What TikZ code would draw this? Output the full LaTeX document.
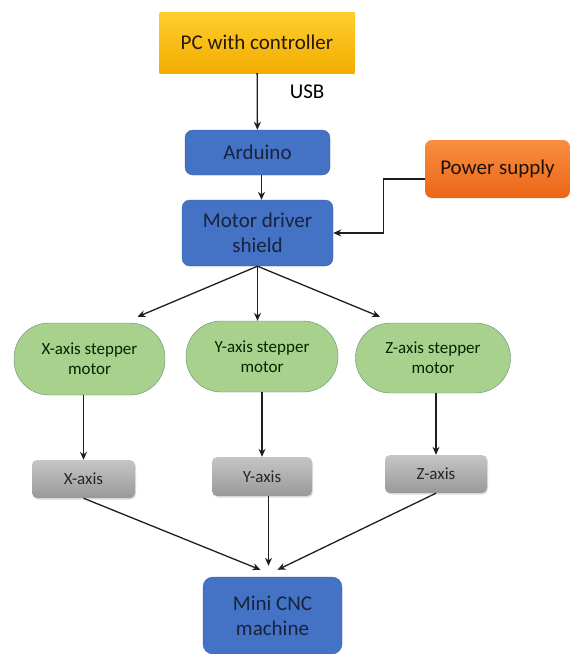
\documentclass[tikz,border=0pt]{standalone}
\usepackage{fontspec}
\setmainfont{Carlito}
\usepackage{tikz}
\usetikzlibrary{arrows.meta,positioning,calc,shadows}
\definecolor{cncblue}{HTML}{4472C4}
\definecolor{cncblueline}{HTML}{3863B3}
\definecolor{navytext}{HTML}{17233F}
\definecolor{pctop}{HTML}{FFCE2E}
\definecolor{pcbottom}{HTML}{F2AD00}
\definecolor{powertop}{HTML}{F88E3E}
\definecolor{powerbottom}{HTML}{EC6519}
\definecolor{motorgreen}{HTML}{A9D18E}
\definecolor{motorline}{HTML}{5F8B73}
\definecolor{wire}{HTML}{1E1E1E}

\begin{document}
\begin{tikzpicture}[
  x=1pt, y=-1pt,
  big/.style={font=\fontsize{21}{25}\selectfont},
  small/.style={font=\fontsize{17}{20}\selectfont},
  block/.style={big, draw=cncblueline, fill=cncblue, text=navytext, rounded corners=8pt, align=center, inner sep=0pt},
  pcbox/.style={big, top color=pctop, bottom color=pcbottom, text=black!80!brown, inner sep=0pt},
  powerbox/.style={big, top color=powertop, bottom color=powerbottom, text=black!85!brown, rounded corners=7pt, inner sep=0pt},
  motor/.style={small, draw=motorline, fill=motorgreen, text=black!85!green, rounded corners=35pt, align=center, inner sep=0pt},
  axisbox/.style={small, top color=gray!45, bottom color=gray!80, text=black!85, rounded corners=5pt, inner sep=0pt,
    drop shadow={shadow xshift=1pt, shadow yshift=-1.5pt, opacity=0.25}},
  arrow/.style={-{Stealth[length=8pt,width=7pt]}, line width=1.3pt, draw=wire}
]
\useasboundingbox (0,0) rectangle (570,654);

\node[pcbox, minimum width=195pt, minimum height=61pt] (pc) at (257,42.5) {PC with controller};
\node[block, minimum width=145pt, minimum height=45pt] (arduino) at (257.5,152.5) {Arduino};
\node[block, minimum width=151pt, minimum height=66pt] (shield) at (257.5,233) {Motor driver\\shield};
\node[powerbox, minimum width=145pt, minimum height=58pt] (power) at (497.5,169) {Power supply};

\node[motor, minimum width=151pt, minimum height=72pt] (xmotor) at (89.5,359) {X-axis stepper\\motor};
\node[motor, minimum width=152pt, minimum height=71pt] (ymotor) at (262,356.5) {Y-axis stepper\\motor};
\node[motor, minimum width=155pt, minimum height=70pt] (zmotor) at (433,358) {Z-axis stepper\\motor};

\node[axisbox, minimum width=103pt, minimum height=38pt] (xaxis) at (83.5,479) {X-axis};
\node[axisbox, minimum width=100pt, minimum height=39pt] (yaxis) at (262,476.5) {Y-axis};
\node[axisbox, minimum width=102pt, minimum height=38pt] (zaxis) at (436,474) {Z-axis};

\node[block, minimum width=139pt, minimum height=77pt, rounded corners=10pt] (cnc) at (272.5,615.5) {Mini CNC\\machine};

\draw[arrow] (pc) -- node[big, pos=0.33, anchor=west, xshift=32pt, inner sep=0pt] (usb) {USB} (arduino);
\draw[arrow] ([xshift=4pt]arduino.south) -- ([xshift=4pt]shield.north);
\draw[arrow] ([yshift=-10pt]power.west) -- ++(-41,0) |- (shield.east);

\draw[arrow] (shield.south) -- ($(xmotor.north)+(48,-6)$);
\draw[arrow] (shield.south) -- (shield.south |- ymotor.north);
\draw[arrow] (shield.south) -- ($(zmotor.north)+(-53,-6)$);

\draw[arrow] (xaxis.north |- xmotor.south) -- (xaxis.north);
\draw[arrow] (yaxis.north |- ymotor.south) -- (yaxis.north);
\draw[arrow] (zaxis.north |- zmotor.south) -- (zaxis.north);

\coordinate (ytip) at ($(cnc.north)+(-4,-11)$);
\draw[arrow] (xaxis.south) -- ($(cnc.north)+(-12,-7)$);
\draw[arrow] (yaxis.south -| ytip) -- (ytip);
\draw[arrow] (zaxis.south) -- ($(cnc.north)+(5,-7)$);
\end{tikzpicture}
\end{document}
